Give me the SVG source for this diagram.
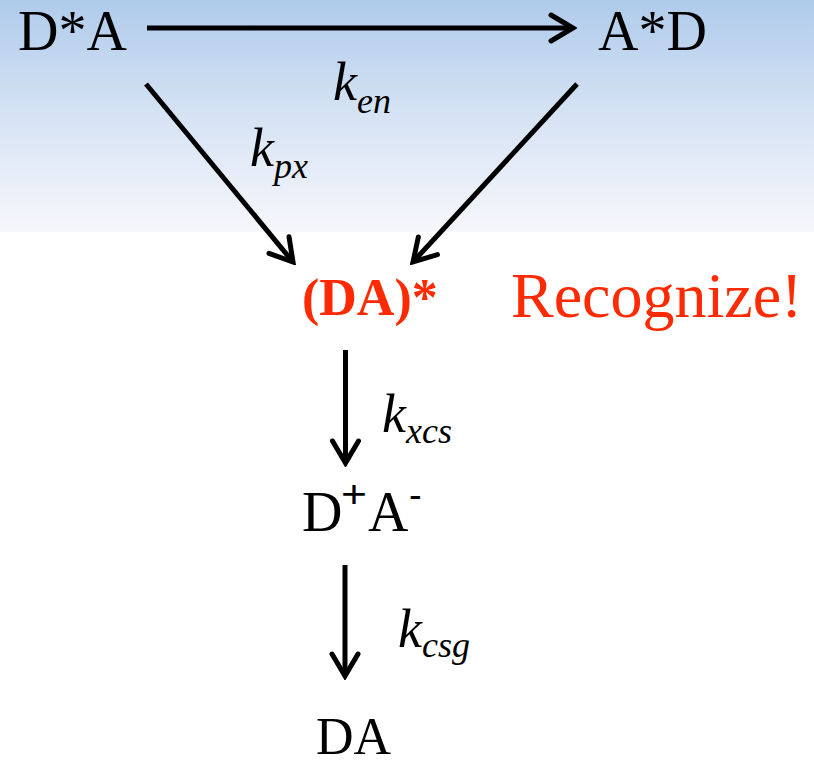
<svg xmlns="http://www.w3.org/2000/svg" width="814" height="765" viewBox="0 0 814 765">
  <defs>
    <linearGradient id="sky" x1="0" y1="0" x2="0" y2="1">
      <stop offset="0" stop-color="#afcbeb"/>
      <stop offset="0.5" stop-color="#d6e3f4"/>
      <stop offset="1" stop-color="#f6f7fb"/>
    </linearGradient>
    <marker id="head" viewBox="-26 -16 30 32" refX="0" refY="0" markerWidth="30" markerHeight="32" markerUnits="userSpaceOnUse" orient="auto">
      <path d="M-22,-13 L0,0 L-22,13" fill="none" stroke="#000" stroke-width="5" stroke-linecap="round" stroke-linejoin="miter"/>
    </marker>
  </defs>
  <style>
    text { font-family: 'Liberation Serif', 'Times New Roman', Times, serif; fill: #000; }
    .big { font-size: 56px; }
    .k { font-style: italic; font-size: 54px; }
    .sub { font-style: italic; font-size: 36px; }
    .red { fill: #ff2a00; }
    text.sup { font-family: 'Liberation Sans', Arial, sans-serif; }
    .conn line { stroke: #000; stroke-width: 5; stroke-linecap: butt; marker-end: url(#head); }
  </style>

  <!-- page background with the pale blue band behind the top row -->
  <rect x="0" y="0" width="814" height="765" fill="#ffffff"/>
  <rect x="0" y="0" width="814" height="232" fill="url(#sky)"/>

  <g id="connectors" class="conn">
    <line x1="147" y1="28" x2="573" y2="28"/>
    <line x1="146" y1="84" x2="293" y2="262"/>
    <line x1="577" y1="84" x2="413" y2="262"/>
    <line x1="345.5" y1="350" x2="345.5" y2="463"/>
    <line x1="345" y1="565" x2="345" y2="676"/>
  </g>

  <g id="node-DstarA">
    <text class="big" x="18" y="50" font-family="Liberation Serif, serif">D*A</text>
  </g>
  <g id="node-AstarD">
    <text class="big" x="598" y="50" font-family="Liberation Serif, serif">A*D</text>
  </g>
  <g id="node-exciplex">
    <text class="red" x="302" y="315" font-size="52" font-weight="bold" font-family="Liberation Serif, serif">(DA)*</text>
  </g>
  <g id="note-recognize">
    <text class="red" x="511" y="317" font-size="64" font-family="Liberation Serif, serif">Recognize!</text>
  </g>
  <g id="node-cs">
    <text class="big" x="302" y="531" font-family="Liberation Serif, serif">D</text>
    <text class="sup" x="341" y="507" font-size="38" textLength="26" lengthAdjust="spacingAndGlyphs">+</text>
    <text class="big" x="368" y="531" font-family="Liberation Serif, serif">A</text>
    <text class="sup" x="409" y="508" font-size="38">-</text>
  </g>
  <g id="node-ground">
    <text x="316" y="754" font-size="52" font-family="Liberation Serif, serif">DA</text>
  </g>

  <g id="rate-labels" font-family="Liberation Serif, serif">
    <text class="k" x="333" y="100">k</text><text class="sub" x="357" y="113">en</text>
    <text class="k" x="250" y="166">k</text><text class="sub" x="274" y="178">px</text>
    <text class="k" x="382" y="432">k</text><text class="sub" x="406" y="443">xcs</text>
    <text class="k" x="398" y="647">k</text><text class="sub" x="422" y="657">csg</text>
  </g>
</svg>
